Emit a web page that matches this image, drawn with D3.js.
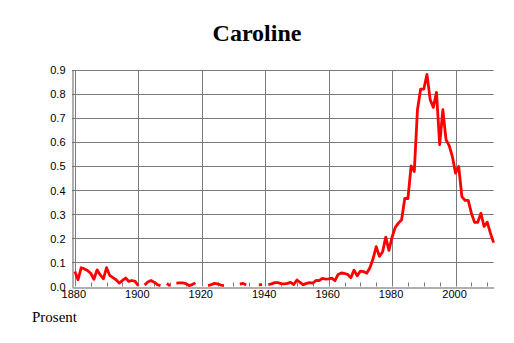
<!DOCTYPE html>
<html>
<head>
<meta charset="utf-8">
<script src="https://cdn.jsdelivr.net/npm/d3@7"></script>
<style>
  body { margin: 0; background: #fff; }
  svg { display: block; }
</style>
</head>
<body>
<div id="chart"></div>
<script>
// one value per year, null where there is no data
const startYear = 1880
const values = [
  0.062, 0.028, 0.078, 0.073, 0.066, 0.055, 0.030, 0.069, 0.048, 0.032, // 1880
  0.078, 0.046, 0.037, 0.028, 0.014, 0.025, 0.035, 0.021, 0.025, 0.021, // 1890
  0.003, null, 0.006, 0.019, 0.025, 0.018, 0.008, 0.004, null, 0.013,   // 1900
  0.002, null, 0.014, 0.015, 0.015, 0.012, 0.004, 0.008, 0.015, null,   // 1910
  null, null, 0.004, 0.008, 0.013, 0.011, 0.006, 0.004, null, null,     // 1920
  null, null, 0.010, 0.013, 0.006, null, null, null, 0.007, 0.008,      // 1930
  null, 0.008, 0.011, 0.016, 0.016, 0.012, 0.011, 0.013, 0.017, 0.008,  // 1940
  0.027, 0.017, 0.007, 0.013, 0.016, 0.014, 0.025, 0.024, 0.034, 0.031, // 1950
  0.032, 0.035, 0.024, 0.050, 0.056, 0.054, 0.050, 0.036, 0.068, 0.044, // 1960
  0.064, 0.062, 0.055, 0.078, 0.115, 0.165, 0.125, 0.143, 0.205, 0.150, // 1970
  0.205, 0.245, 0.263, 0.277, 0.365, 0.365, 0.500, 0.477, 0.733, 0.819, // 1980
  0.819, 0.880, 0.775, 0.743, 0.805, 0.588, 0.733, 0.609, 0.584, 0.539, // 1990
  0.470, 0.498, 0.373, 0.357, 0.357, 0.304, 0.266, 0.266, 0.304, 0.249, // 2000
  0.267, 0.221, 0.182                                                    // 2010
]
const xTicks = [1880, 1900, 1920, 1940, 1960, 1980, 2000]
const yTicks = [0, 0.1, 0.2, 0.3, 0.4, 0.5, 0.6, 0.7, 0.8, 0.9]

const width = 514, height = 343
const plotLeft = 72, plotRight = 493.6, plotTop = 69.5, plotBottom = 286.5

const data = values.map((v, i) => ({year: startYear + i, v: v}))

const svg = d3.select('#chart')
  .append('svg')
  .attr('width', width)
  .attr('height', height)

const x = d3.scaleLinear()
  .domain([1879.1, 2012])
  .range([plotLeft, plotRight])

const y = d3.scaleLinear()
  .domain([0, 0.9])
  .range([plotBottom, plotTop])

// horizontal grid
svg.append('g')
  .selectAll('line')
  .data(yTicks.slice(1))
  .enter()
  .append('line')
  .attr('x1', plotLeft)
  .attr('x2', plotRight)
  .attr('y1', d => Math.round(y(d)) + 0.5)
  .attr('y2', d => Math.round(y(d)) + 0.5)
  .attr('stroke', '#7a7a7a')

// vertical grid
svg.append('g')
  .selectAll('line')
  .data(xTicks)
  .enter()
  .append('line')
  .attr('x1', d => Math.round(x(d)) + 0.5)
  .attr('x2', d => Math.round(x(d)) + 0.5)
  .attr('y1', Math.round(y(0.9)) + 0.5)
  .attr('y2', plotBottom)
  .attr('stroke', '#7a7a7a')

// minor ticks every 5 years
svg.append('g')
  .selectAll('line')
  .data(d3.range(1885, 2012, 5).filter(d => d % 20 !== 0))
  .enter()
  .append('line')
  .attr('x1', d => Math.round(x(d)) + 0.5)
  .attr('x2', d => Math.round(x(d)) + 0.5)
  .attr('y1', plotBottom - 4)
  .attr('y2', plotBottom)
  .attr('stroke', '#7a7a7a')

const yAxis = d3.axisLeft(y)
  .tickValues(yTicks)
  .tickFormat(d3.format('.1f'))
  .tickSize(0)
  .tickPadding(7)
const gy = svg.append('g')
  .attr('transform', `translate(${plotLeft + 0.5},0.5)`)
  .call(yAxis)
gy.select('.domain').attr('stroke', '#606060')
gy.selectAll('text')
  .style('font-family', '"Liberation Sans", Arial, sans-serif')
  .style('font-size', '11px')
  .attr('fill', '#000')

const xAxis = d3.axisBottom(x)
  .tickValues(xTicks)
  .tickFormat(d3.format('d'))
  .tickSize(0)
  .tickPadding(3)
const gx = svg.append('g')
  .attr('transform', `translate(0,${Math.round(plotBottom) + 0.5})`)
  .call(xAxis)
gx.select('.domain').attr('stroke', '#606060')
gx.selectAll('text')
  .attr('dx', -1.5)
  .style('font-family', '"Liberation Sans", Arial, sans-serif')
  .style('font-size', '11px')
  .attr('fill', '#000')

const line = d3.line()
  .defined(d => d.v !== null)
  .x(d => x(d.year))
  .y(d => y(d.v))

svg.append('path')
  .datum(data)
  .attr('d', line)
  .attr('fill', 'none')
  .attr('stroke', '#ff0000')
  .attr('stroke-width', 2.8)
  .attr('stroke-linejoin', 'round')

svg.append('text')
  .text('Caroline')
  .attr('x', 257)
  .attr('y', 41)
  .attr('text-anchor', 'middle')
  .style('font-family', '"Liberation Serif", "Times New Roman", serif')
  .style('font-weight', 'bold')
  .style('font-size', '24px')

svg.append('text')
  .text('Prosent')
  .attr('x', 32)
  .attr('y', 322)
  .style('font-family', '"Liberation Serif", "Times New Roman", serif')
  .style('font-size', '15px')
</script>
</body>
</html>
